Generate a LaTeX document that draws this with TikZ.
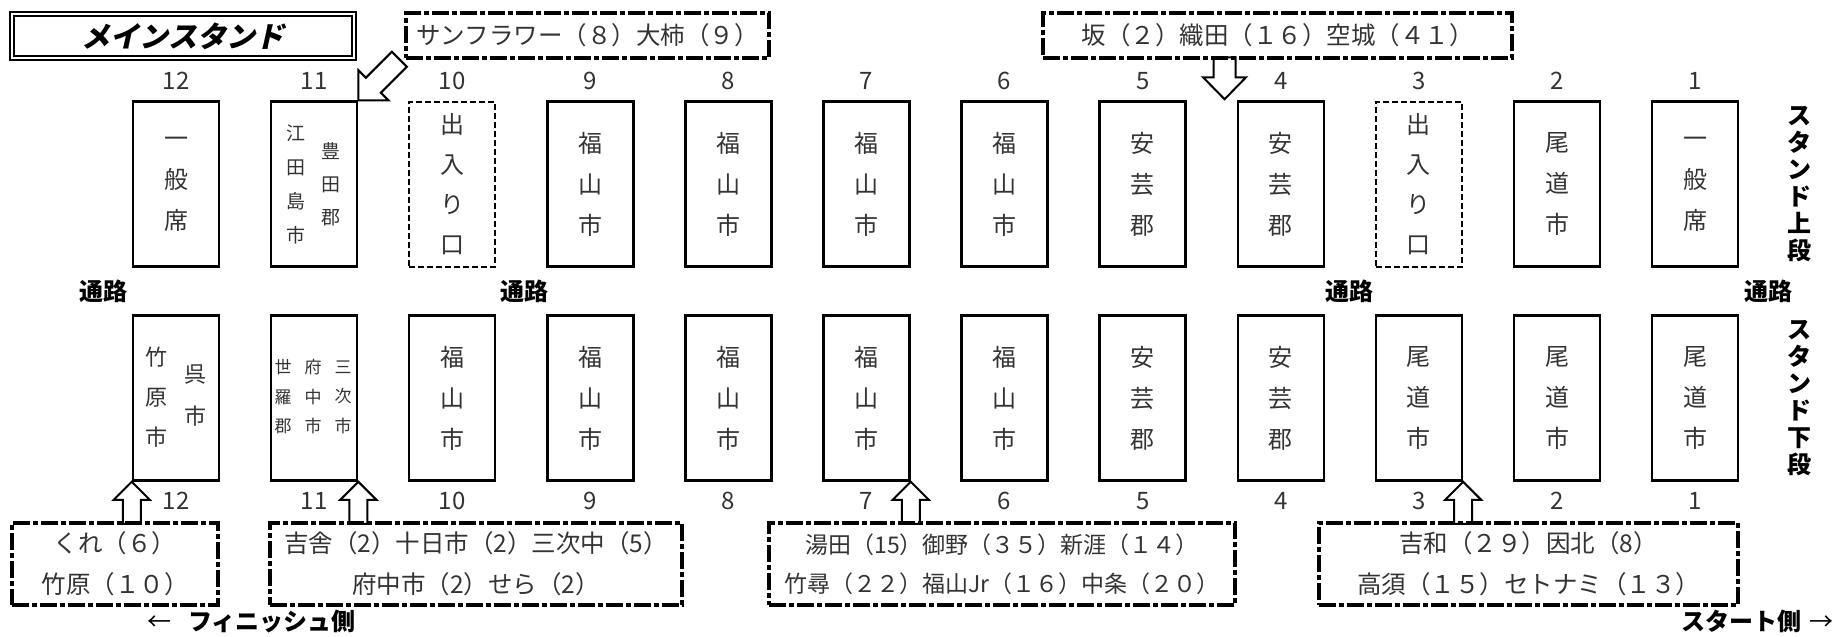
\documentclass[tikz,border=0pt]{standalone}
\usepackage{fontspec}
\setmainfont{Noto Sans CJK JP}
\newfontfamily\titlefont{Noto Sans CJK JP}[FakeSlant=0.22]
\usetikzlibrary{calc}
\pgfdeclarelayer{bg}
\pgfsetlayers{bg,main}
\tikzset{
  seat/.style={draw, line width=2.5pt, minimum width=86pt, minimum height=165pt, inner sep=0pt, align=center, text=black!80, font=\fontsize{24pt}{41pt}\selectfont},
  gate/.style={seat, line width=2pt, dash pattern=on 6pt off 3pt, font=\fontsize{24pt}{40pt}\selectfont},
  num/.style={text=black!80, font=\fontsize{24pt}{24pt}\selectfont, inner sep=0pt},
  tagbox/.style={draw, line width=4.5pt, dash pattern=on 17pt off 3pt on 5pt off 3pt, inner sep=0pt, align=center, text=black!80},
  aisle/.style={font=\bfseries\fontsize{24pt}{24pt}\selectfont, inner sep=0pt},
  vlabel/.style={font=\bfseries\fontsize{24pt}{27pt}\selectfont, align=center, inner sep=0pt},
  subtxt/.style={align=center, inner sep=0pt, text=black!80},
  barrow/.style={draw, fill=white, line width=2pt, line join=miter},
}
\newcommand\uparr[1]{\draw[barrow] (#1) -- ++(18,18) -- ++(-9,0) -- ++(0,24) -- ++(-18,0) -- ++(0,-24) -- ++(-9,0) -- cycle;}
\begin{document}
\begin{tikzpicture}[x=1pt,y=-1pt]
\useasboundingbox (0,0) rectangle (1834,637);

% title
\node[draw, double, line width=1.5pt, double distance=2.5pt, minimum width=342pt, minimum height=44pt, inner sep=0pt,
      font=\titlefont\bfseries\fontsize{29pt}{29pt}\selectfont] (title) at (183,36) {メインスタンド};

% column numbers
\foreach \n [count=\k from 0] in {12,11,...,1} {
  \node[num] (nt\n) at ({176+138.1*\k},81) {\n};
  \node[num] (nb\n) at ({176+138.1*\k},501) {\n};
}

% upper stand
\node[seat] (u12) at (176,184) {一\\般\\席};
\node[seat] (u11) at (314.1,184) {};
\node[gate] (u10) at (452.2,184) {出\\入\\り\\口};
\node[seat] (u9) at (590.3,184) {福\\山\\市};
\node[seat] (u8) at (728.4,184) {福\\山\\市};
\node[seat] (u7) at (866.5,184) {福\\山\\市};
\node[seat] (u6) at (1004.6,184) {福\\山\\市};
\node[seat] (u5) at (1142.7,184) {安\\芸\\郡};
\node[seat] (u4) at (1280.8,184) {安\\芸\\郡};
\node[gate] (u3) at (1418.9,184) {出\\入\\り\\口};
\node[seat] (u2) at (1557,184) {尾\\道\\市};
\node[seat] (u1) at (1695.1,184) {一\\般\\席};
\node[subtxt, font=\fontsize{19pt}{34pt}\selectfont] (u11a) at ($(u11.center)+(-18,0)$) {江\\田\\島\\市};
\node[subtxt, font=\fontsize{19pt}{33pt}\selectfont] (u11b) at ($(u11.center)+(17,0)$) {豊\\田\\郡};

% lower stand
\node[seat] (l12) at (176,398) {};
\node[seat] (l11) at (314.1,398) {};
\node[seat] (l10) at (452.2,398) {福\\山\\市};
\node[seat] (l9) at (590.3,398) {福\\山\\市};
\node[seat] (l8) at (728.4,398) {福\\山\\市};
\node[seat] (l7) at (866.5,398) {福\\山\\市};
\node[seat] (l6) at (1004.6,398) {福\\山\\市};
\node[seat] (l5) at (1142.7,398) {安\\芸\\郡};
\node[seat] (l4) at (1280.8,398) {安\\芸\\郡};
\node[seat] (l3) at (1418.9,398) {尾\\道\\市};
\node[seat] (l2) at (1557,398) {尾\\道\\市};
\node[seat] (l1) at (1695.1,398) {尾\\道\\市};
\node[subtxt, font=\fontsize{22pt}{40pt}\selectfont] (l12a) at ($(l12.center)+(-20,-1)$) {竹\\原\\市};
\node[subtxt, font=\fontsize{22pt}{42pt}\selectfont] (l12b) at ($(l12.center)+(19,-2)$) {呉\\市};
\node[subtxt, font=\fontsize{17pt}{29.5pt}\selectfont] (l11a) at ($(l11.center)+(-31,-1)$) {世\\羅\\郡};
\node[subtxt, font=\fontsize{17pt}{29.5pt}\selectfont] (l11b) at ($(l11.center)+(-1,-1)$) {府\\中\\市};
\node[subtxt, font=\fontsize{17pt}{29.5pt}\selectfont] (l11c) at ($(l11.center)+(29,-1)$) {三\\次\\市};

% aisles
\node[aisle] (a1) at (103,291) {通路};
\node[aisle] (a2) at (524,291) {通路};
\node[aisle] (a3) at (1349,291) {通路};
\node[aisle] (a4) at (1768,291) {通路};

% side labels
\node[vlabel] (su) at (1799,184) {ス\\タ\\ン\\ド\\上\\段};
\node[vlabel] (sl) at (1799,398) {ス\\タ\\ン\\ド\\下\\段};

% direction labels
\node[aisle, anchor=west] (fin) at (147,621) {{\mdseries ←}\hspace{17pt}フィニッシュ側};
\node[aisle, anchor=east] (start) at (1834,621) {スタート側\hspace{8pt}{\mdseries →}};

% group tags
\node[tagbox, minimum width=363pt, minimum height=45pt, font=\fontsize{24.5pt}{24.5pt}\selectfont] (tsun) at (587.5,35.5) {サンフラワー（８）大柿（９）};
\node[tagbox, minimum width=469pt, minimum height=45pt, font=\fontsize{24.5pt}{24.5pt}\selectfont] (tsaka) at (1277.5,35.5) {坂（２）織田（１６）空城（４１）};
\node[tagbox, minimum width=206pt, minimum height=82pt, font=\fontsize{24.5pt}{41pt}\selectfont] (ta) at (115,564) {くれ（６）\\竹原（１０）};
\node[tagbox, minimum width=412pt, minimum height=82pt, font=\fontsize{24.5pt}{41pt}\selectfont] (tb) at (476,564) {吉舎（2）十日市（2）三次中（5）\\府中市（2）せら（2）};
\node[tagbox, minimum width=466pt, minimum height=82pt, font=\fontsize{23pt}{39pt}\selectfont] (tc) at (1002,564) {湯田（15）御野（３５）新涯（１４）\\竹尋（２２）福山Jr（１６）中条（２０）};
\node[tagbox, minimum width=419pt, minimum height=82pt, font=\fontsize{24.5pt}{41pt}\selectfont] (td) at (1528.5,564) {吉和（２９）因北（8）\\高須（１５）セトナミ（１３）};

% block arrows
\begin{pgfonlayer}{bg}
\draw[barrow] (u11.north east) -- ++(30,0) -- ++(-7.5,-7.5) -- ++(26,-26) -- ++(-15,-15) -- ++(-26,26) -- ++(-7.5,-7.5) -- cycle;
\draw[barrow] ($(u4.north west)+(-12,-1)$) -- ++(21.5,-22) -- ++(-10.5,0) -- ++(0,-20) -- ++(-22,0) -- ++(0,20) -- ++(-10.5,0) -- cycle;
\uparr{l12.south west}
\uparr{l11.south east}
\uparr{l7.south east}
\uparr{l3.south east}
\end{pgfonlayer}
\end{tikzpicture}
\end{document}
